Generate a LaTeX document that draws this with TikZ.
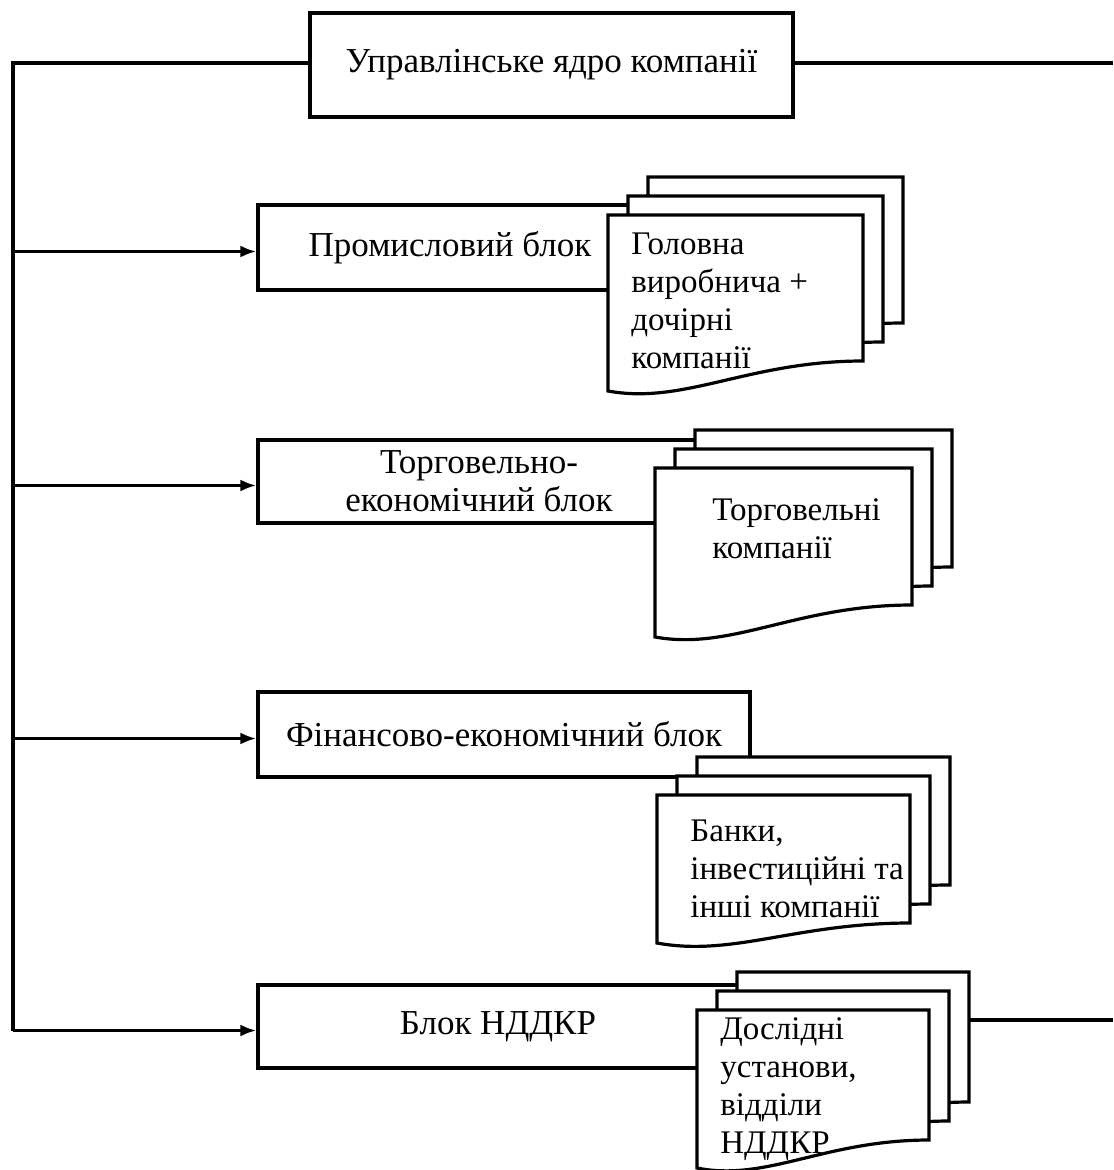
\documentclass[tikz,border=0pt]{standalone}
\usepackage{fontspec}
\setmainfont{Liberation Serif}
\usetikzlibrary{arrows.meta}
\begin{document}
\begin{tikzpicture}[
    x=0.5pt, y=-0.5pt,
    every node/.style={font=\fontsize{17.5}{19}\selectfont, align=center},
    box/.style={rectangle, draw=black, line width=1.6pt, fill=white, inner sep=0pt},
    doctext/.style={anchor=north west, align=left, inner sep=0pt, font=\fontsize{16.5}{19}\selectfont},
    ln/.style={line width=1.6pt},
    arr/.style={-{Latex[length=8pt,width=6pt]}, line width=1.6pt},
    pics/docs/.style n args={3}{code={
        \foreach \k in {2,1,0}
            \draw[ln, fill=white, shift={(20*\k,-19*\k)}]
                (0,0) -- (#1,0) -- (#1,#2)
                .. controls (0.55*#1,#2) and (0.3*#1,#3+14) .. (0,#3) -- cycle;
        \coordinate (-e) at (#1+40,10);
    }}
]
\useasboundingbox (0,0) rectangle (1113,1170);

\node[box, minimum width=241.5pt, minimum height=52pt]   (core) at (551.5,65)   {Управлінське ядро компанії};
\node[box, minimum width=192pt,   minimum height=42.5pt] (blk1) at (450,247.5)  {Промисловий блок};
\node[box, minimum width=221pt,   minimum height=41.5pt] (blk2) at (479,481.5)  {Торговельно-\\економічний блок};
\node[box, minimum width=246pt,   minimum height=42.5pt] (blk3) at (504,734.5)  {Фінансово-економічний блок};
\node[box, minimum width=240pt,   minimum height=41.5pt] (blk4) at (498,1026.5) {Блок НДДКР};

\pic (d1) at (608,215)  {docs={255}{146}{176}};
\pic (d2) at (655,468)  {docs={257}{137}{169}};
\pic (d3) at (657,795)  {docs={253}{128}{148}};
\pic (d4) at (697,1010) {docs={232}{130}{158}};

\node[doctext] (t1) at (631,232)  {Головна\\виробнича +\\дочірні\\компанії};
\node[doctext] (t2) at (712,498)  {Торговельні\\компанії};
\node[doctext] (t3) at (690,819)  {Банки,\\інвестиційні та\\інші компанії};
\node[doctext] (t4) at (720,1017) {Дослідні\\установи,\\відділи\\НДДКР};

\coordinate (lt) at (13,63);
\coordinate (rt) at (1113,63);
\coordinate (a1) at ([yshift=-2pt]blk1.west);
\coordinate (a2) at ([yshift=-2pt]blk2.west);
\coordinate (a3) at ([yshift=-2pt]blk3.west);
\coordinate (a4) at ([yshift=-2pt]blk4.west);

\draw[ln] (core.west |- lt) -- (lt) -- (lt |- a4);
\draw[ln] (core.east |- rt) -- (rt);
\draw[ln] (d4-e) -- (d4-e -| rt);
\draw[arr] (lt |- a1) -- (a1);
\draw[arr] (lt |- a2) -- (a2);
\draw[arr] (lt |- a3) -- (a3);
\draw[arr] (lt |- a4) -- (a4);
\end{tikzpicture}
\end{document}
